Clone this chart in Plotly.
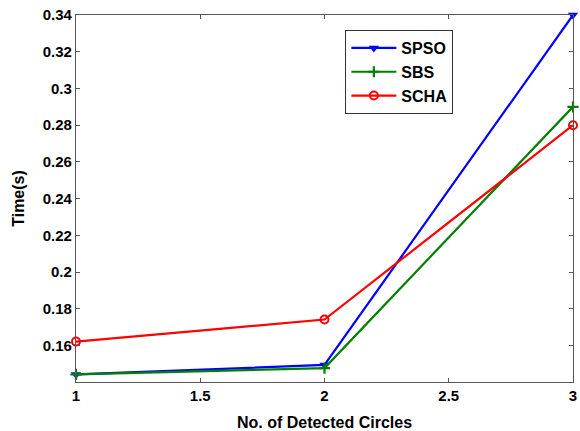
import plotly.graph_objects as go

x_circles = [1, 2, 3]
spso = [0.1443, 0.1495, 0.34]
sbs = [0.1443, 0.1478, 0.29]
scha = [0.1622, 0.1742, 0.28]

font_family = "Liberation Sans, Arial, sans-serif"

fig = go.Figure()
fig.add_trace(go.Scatter(
    x=x_circles, y=spso, name="SPSO", mode="lines+markers",
    line=dict(color="#0000FF", width=2.2),
    marker=dict(symbol="triangle-down", size=9, color="#0000FF"),
    cliponaxis=False,
))
fig.add_trace(go.Scatter(
    x=x_circles, y=sbs, name="SBS", mode="lines+markers",
    line=dict(color="#008000", width=2.2),
    marker=dict(symbol="cross-thin", size=8, color="#008000",
                line=dict(color="#008000", width=2.2)),
    cliponaxis=False,
))
fig.add_trace(go.Scatter(
    x=x_circles, y=scha, name="SCHA", mode="lines+markers",
    line=dict(color="#FF0000", width=2.2),
    marker=dict(symbol="circle-open", size=8, color="#FF0000",
                line=dict(color="#FF0000", width=2)),
    cliponaxis=False,
))

axis_common = dict(
    showgrid=False, zeroline=False, automargin=False,
    showline=True, linecolor="#555555", linewidth=1.2,
    mirror="ticks", ticks="inside", ticklen=4, tickcolor="#555555",
    ticklabeloverflow="allow",
    tickfont=dict(family=font_family, size=15, color="black", weight="bold"),
)

fig.update_xaxes(
    range=[1, 3], tickvals=[1, 1.5, 2, 2.5, 3], ticktext=["1", "1.5", "2", "2.5", "3"],
    title=dict(text="No. of Detected Circles", standoff=14,
               font=dict(family=font_family, size=16, color="black", weight="bold")),
    **axis_common,
)
fig.update_yaxes(
    range=[0.1402, 0.34],
    tickvals=[0.16, 0.18, 0.2, 0.22, 0.24, 0.26, 0.28, 0.3, 0.32, 0.34],
    ticktext=["0.16", "0.18", "0.2", "0.22", "0.24", "0.26", "0.28", "0.3", "0.32", "0.34"],
    title=dict(text="Time(s)", standoff=14,
               font=dict(family=font_family, size=16, color="black", weight="bold")),
    **axis_common,
)

fig.update_layout(
    width=580, height=431,
    margin=dict(l=76, r=7, t=15, b=49),
    paper_bgcolor="white", plot_bgcolor="white",
    showlegend=True,
    legend=dict(
        x=0.542, y=0.959, xanchor="left", yanchor="top",
        bgcolor="white", bordercolor="#333333", borderwidth=1,
        font=dict(family=font_family, size=16, color="black", weight="bold"),
        itemwidth=45, tracegroupgap=0,
    ),
)

fig.write_html("out.html")
